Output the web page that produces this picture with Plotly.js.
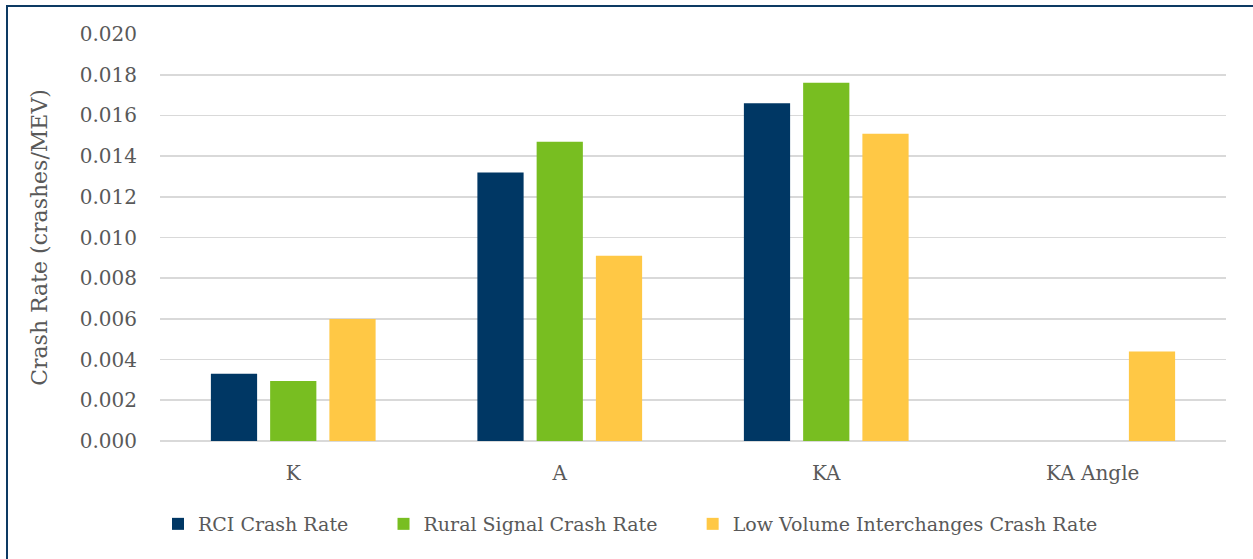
<!DOCTYPE html>
<html>
<head>
<meta charset="utf-8">
<script src="https://cdn.plot.ly/plotly-3.0.1.min.js"></script>
<style>
html,body{margin:0;padding:0;background:#fff;}
#wrap{position:relative;width:1253px;height:559px;overflow:hidden;}
#frame{position:absolute;left:6px;top:5px;width:1300px;height:600px;border-left:2px solid #0d3a63;border-top:2px solid #0d3a63;box-sizing:border-box;pointer-events:none;z-index:5;}
#chart{position:absolute;left:0;top:0;width:1253px;height:559px;}
</style>
</head>
<body>
<div id="wrap">
<div id="chart"></div>
<div id="frame"></div>
</div>
<script>
const categories = ["K", "A", "KA", "KA Angle"];
const seriesNames = ["RCI Crash Rate", "Rural Signal Crash Rate", "Low Volume Interchanges Crash Rate"];
const rciRate = [0.0033, 0.0132, 0.0166, 0];
const ruralSignalRate = [0.00295, 0.0147, 0.0176, 0];
const lowVolumeRate = [0.0060, 0.0091, 0.0151, 0.0044];
const tickValues = [0, 0.002, 0.004, 0.006, 0.008, 0.010, 0.012, 0.014, 0.016, 0.018, 0.020];
const tickLabels = ["0.000", "0.002", "0.004", "0.006", "0.008", "0.010", "0.012", "0.014", "0.016", "0.018", "0.020"];
const colors = ["#003764", "#78BE21", "#FFC845"];

const series = [rciRate, ruralSignalRate, lowVolumeRate];
const font = "DejaVu Serif, serif";
const pad = "\u00a0\u00a0\u00a0\u00a0\u00a0";
const traces = series.map((vals, i) => ({
  type: "bar",
  name: seriesNames[i] + (i < series.length - 1 ? pad : ""),
  x: categories,
  y: vals,
  marker: {color: colors[i], line: {width: 0}},
  hoverinfo: "x+y+name"
}));

const layout = {
  width: 1253, height: 559,
  margin: {l: 160, r: 27, t: 34, b: 118, pad: 0},
  paper_bgcolor: "#fff", plot_bgcolor: "#fff",
  font: {family: font, color: "#595959", size: 20},
  barmode: "group",
  bargap: 0.333,
  bargroupgap: 0.22,
  showlegend: true,
  legend: {orientation: "h", xref: "container", x: 158 / 1253, xanchor: "left",
           yref: "container", y: 1 - 524 / 559, yanchor: "middle",
           font: {family: font, size: 19, color: "#595959"}, traceorder: "normal"},
  xaxis: {type: "category", showgrid: false, zeroline: false, showline: false, ticks: "",
          ticklabelstandoff: 18,
          tickfont: {family: font, size: 20, color: "#595959"}},
  yaxis: {range: [0, 0.020], tickvals: tickValues, ticktext: tickLabels,
          showgrid: true, gridcolor: "#d9d9d9", gridwidth: 1.6, zeroline: true, zerolinecolor: "#d9d9d9", zerolinewidth: 1.6,
          showline: false, ticks: "", ticklabelstandoff: 22,
          tickfont: {family: font, size: 20, color: "#595959"},
          title: {text: "Crash Rate (crashes/MEV)", font: {family: font, size: 22, color: "#595959"}, standoff: 26}}
};

Plotly.newPlot("chart", traces, layout, {displayModeBar: false, staticPlot: true});
</script>
</body>
</html>
